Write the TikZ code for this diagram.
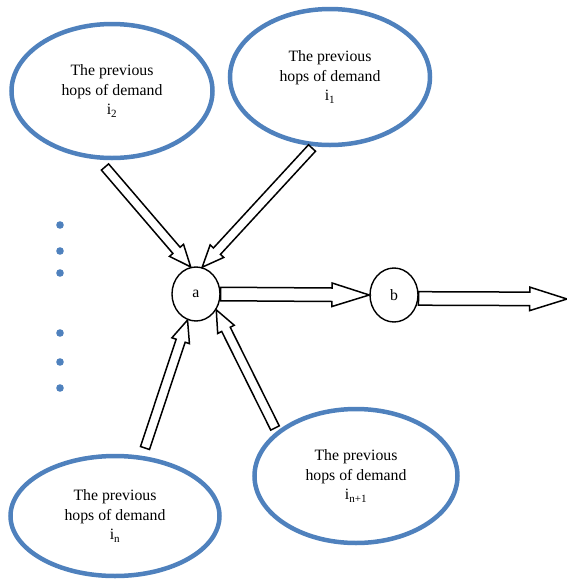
\documentclass[tikz,border=0pt]{standalone}
\usepackage{fontspec}
\setmainfont{Liberation Serif}
\usepackage{tikz}
\usetikzlibrary{shapes.geometric,shapes.arrows,calc}
\definecolor{bleu}{HTML}{4F81BD}

\tikzset{
  demande/.style={ellipse,draw=bleu,line width=4.5pt,inner sep=0pt,align=center,
    font=\fontsize{15.8}{19.5}\selectfont},
  sommet/.style={ellipse,draw,line width=1.4pt,minimum width=48pt,minimum height=54pt,
    inner sep=0pt,font=\fontsize{15.8}{19}\selectfont},
  creuse/.style={single arrow,draw,fill=white,line width=1.5pt,inner xsep=0pt,outer sep=0pt,anchor=tail},
  grosse/.style={creuse,inner ysep=6pt,single arrow head extend=5pt,single arrow tip angle=35},
  fine/.style={creuse,inner ysep=4pt,single arrow head extend=4.5pt,single arrow tip angle=46}
}

% fleche creuse entre deux points
\newcommand{\fleche}[3][grosse]{%
  \path let \p1=($(#3)-(#2)$), \n1={atan2(\y1,\x1)}, \n2={veclen(\x1,\y1)} in
    (#2) node[#1,rotate=\n1,minimum height=\n2] {};}

\begin{document}
\begin{tikzpicture}[x=1pt,y=-1pt]
    \useasboundingbox (0,0) rectangle (567,582);

    % Les demandes precedentes
    \node[demande,minimum width=201pt,minimum height=134pt] (i2) at (112,91)
        {The previous\\hops of demand\\i\textsubscript{2}};
    \node[demande,minimum width=200pt,minimum height=136pt] (i1) at (330,77)
        {The previous\\hops of demand\\i\textsubscript{1}};
    \node[demande,minimum width=209pt,minimum height=120pt] (in) at (115,516)
        {The previous\\hops of demand\\i\textsubscript{n}};
    \node[demande,minimum width=203pt,minimum height=134pt] (in1) at (356,476)
        {The previous\\hops of demand\\i\textsubscript{n+1}};

    % Les sommets
    \node[sommet] (a) at (196,294) {a};
    \node[sommet] (b) at (394,295) {b};

    % Les points de suspension
    \foreach \y in {225,251,273,333,362,388} {
        \fill[bleu] (60,\y) circle (3.8pt);
    }

    % Les extremites libres
    \coordinate (t2) at (105,167);
    \coordinate (t1) at (312,148);
    \coordinate (tn) at (145,448);
    \coordinate (tn1) at (275,428);
    \coordinate (sortie) at (567,299);

    % Les fleches
    \fleche[fine]{t2}{a.101}
    \fleche[fine]{t1}{a.77}
    \fleche[fine]{tn}{a.252}
    \fleche[fine]{tn1}{a.322}
    \fleche{a.east}{b.west}
    \fleche{b.-8}{sortie}

\end{tikzpicture}
\end{document}
